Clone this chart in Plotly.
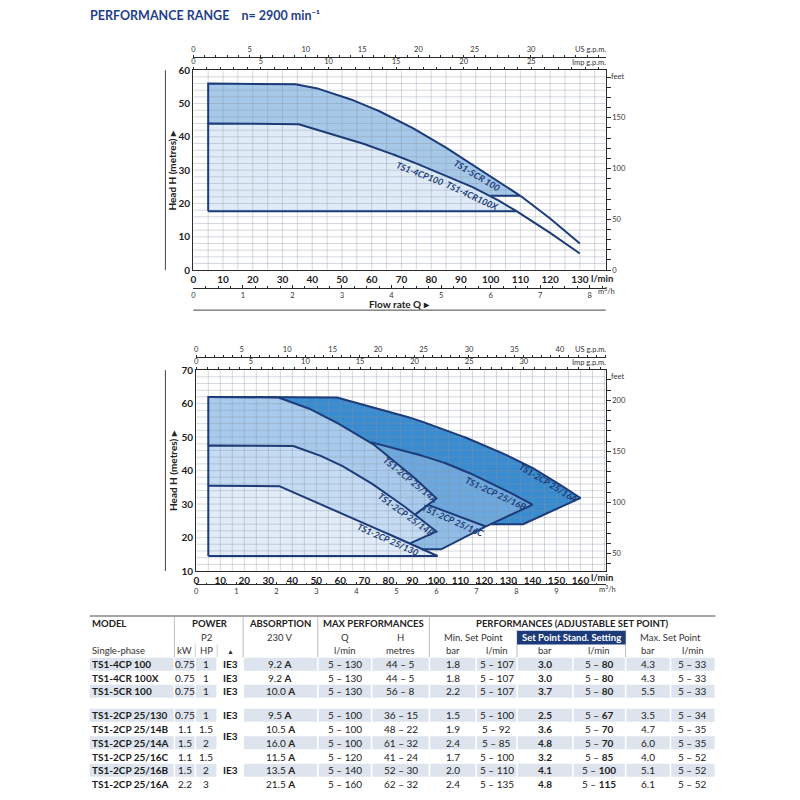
import numpy as np
import plotly.graph_objects as go

# figure is 784x784 so that, with the page's default 8px body margin, it fits an 800x800 window
W, H = 784, 784
X_OFF = 8
Y_SCALE, Y_OFF = 0.985, 14.0   # measured: window_y = Y_SCALE * (fig_y + Y_OFF)

# ---------------- unit conversions ----------------
LPM_PER_USGPM = 3.78541
LPM_PER_IMPGPM = 4.54609
LPM_PER_M3H = 1000.0 / 60.0
FT_PER_M = 3.28084

# ---------------- top chart data (Q l/min, H metres) ----------------
q_5cr = [5, 32.5, 40, 50, 60, 70, 80, 90, 100, 110, 120, 130]
h_5cr = [56, 56, 55.0, 52.3, 48.8, 44.5, 39.5, 34.0, 28.3, 22.3, 15.5, 8.0]
hmin_5cr = 22.3
q_4cp = [5, 34.5, 40, 50, 60, 70, 80, 90, 100, 108.7, 120, 130]
h_4cp = [44, 44, 42.6, 40.0, 37.1, 33.8, 30.2, 26.6, 22.3, 17.7, 11.2, 5.0]
hmin_4cp = 17.7

top_labels = ["TS1-5CR 100", "TS1-4CP100", "TS1-4CR100X"]
top_label_q = [95.5, 76.2, 93.6]
top_label_h = [28.4, 29.0, 22.3]
top_label_angle = [31, 21, 25]

# ---------------- bottom chart data (Q l/min, H metres) ----------------
q_16a = [5, 57.7, 77, 90, 104.7, 120, 132.3, 140, 148.9, 160]
h_16a = [62, 62, 58.2, 55.6, 52.0, 47.6, 43.6, 40.8, 37.0, 31.8]
minset_16a = [136.5, 24.0]
q_16b = [5, 40, 50, 60, 72.6, 85, 100, 110, 120, 130, 140]
h_16b = [52, 52, 51.3, 50.2, 48.5, 46.3, 43.2, 40.5, 37.2, 33.7, 29.8]
minset_16b = [118.2, 22.5]
q_16c = [5, 40, 55, 70, 85, 95.6, 108, 120.6]
h_16c = [41, 41, 38.5, 35.5, 32.6, 30.0, 26.8, 23.3]
minset_16c = [102.6, 16.5]
q_14a = [5, 33.5, 45, 55, 65, 72.6, 80, 90, 100]
h_14a = [62, 62, 59.2, 55.7, 51.6, 48.5, 44.3, 38.4, 31.7]
minset_14a = [86.8, 24.5]
q_14b = [5, 39.7, 50, 60, 70, 80, 90, 100]
h_14b = [47.5, 47.5, 45.0, 41.7, 37.6, 32.8, 27.5, 21.8]
minset_14b = [89.0, 18.2]
q_130 = [5, 34, 45, 55, 65, 75, 85, 95, 100.5]
h_130 = [35.5, 35.5, 32.2, 29.1, 25.9, 22.7, 19.4, 16.2, 14.5]
minset_130 = [100.5, 14.5]

bot_labels = ["TS1-2CP 25/16A", "TS1-2CP 25/16B", "TS1-2CP 25/16C",
              "TS1-2CP 25/14A", "TS1-2CP 25/14B", "TS1-2CP 25/130"]
bot_label_q = [146.4, 124.9, 107.0, 89.0, 87.4, 79.8]
bot_label_h = [36.3, 33.3, 25.2, 37.2, 26.9, 19.4]
bot_label_angle = [31, 25, 24, 39, 36, 24]

# ---------------- axis ticks ----------------
top_lpm_ticks = list(range(0, 131, 10))
top_head_ticks = list(range(0, 61, 10))
top_usgpm_ticks = list(range(0, 31, 5))
top_impgpm_ticks = list(range(0, 26, 5))
top_m3h_ticks = list(range(0, 9))
top_feet_ticks = [0, 50, 100, 150]
bot_lpm_ticks = list(range(0, 161, 10))
bot_head_ticks = list(range(10, 71, 10))
bot_usgpm_ticks = list(range(0, 41, 5))
bot_impgpm_ticks = list(range(0, 31, 5))
bot_m3h_ticks = list(range(0, 10))
bot_feet_ticks = [50, 100, 150, 200]

# ---------------- table data ----------------
tbl_model = ["TS1-4CP 100", "TS1-4CR 100X", "TS1-5CR 100", "TS1-2CP 25/130", "TS1-2CP 25/14B",
             "TS1-2CP 25/14A", "TS1-2CP 25/16C", "TS1-2CP 25/16B", "TS1-2CP 25/16A"]
tbl_kw = ["0.75", "0.75", "0.75", "0.75", "1.1", "1.5", "1.1", "1.5", "2.2"]
tbl_hp = ["1", "1", "1", "1", "1.5", "2", "1.5", "2", "3"]
tbl_amp = ["9.2", "9.2", "10.0", "9.5", "10.5", "16.0", "11.5", "13.5", "21.5"]
tbl_qmax = ["5 – 130", "5 – 130", "5 – 130", "5 – 100", "5 – 100", "5 – 100", "5 – 120", "5 – 140", "5 – 160"]
tbl_hmax = ["44 – 5", "44 – 5", "56 – 8", "36 – 15", "48 – 22", "61 – 32", "41 – 24", "52 – 30", "62 – 32"]
tbl_min_bar = ["1.8", "1.8", "2.2", "1.5", "1.9", "2.4", "1.7", "2.0", "2.4"]
tbl_min_q = ["5 – 107", "5 – 107", "5 – 107", "5 – 100", "5 – 92", "5 – 85", "5 – 100", "5 – 110", "5 – 135"]
tbl_std_bar = ["3.0", "3.0", "3.7", "2.5", "3.6", "4.8", "3.2", "4.1", "4.8"]
tbl_std_q = ["80", "80", "80", "67", "70", "70", "85", "100", "115"]
tbl_max_bar = ["4.3", "4.3", "5.5", "3.5", "4.7", "6.0", "4.0", "5.1", "6.1"]
tbl_max_q = ["5 – 33", "5 – 33", "5 – 33", "5 – 34", "5 – 35", "5 – 35", "5 – 52", "5 – 52", "5 – 52"]
tbl_ie3_groups = [[0], [1], [2], [3], [4, 5], [6, 7, 8]]

# ---------------- styles ----------------
NAVY = "#1d3b78"
TITLE_BLUE = "#1f418c"
AXIS_C = "#2a2a2a"
GRID_C = "rgba(135,145,160,0.45)"
NARROW = "Liberation Sans Narrow, Arial Narrow, Lato, sans-serif"
TABF = "Lato, Open Sans, sans-serif"
TOP_COLORS = ["#a6c8e9", "#dfecf8"]
BOT_COLORS = ["#3a8cd0", "#6ca8de", "#8fbde7", "#a8caec", "#c4dbf3", "#e1ecf8"]

TOP_PX = (191, 605, 70, 270)      # left, right, top, bottom (window pixels)
BOT_PX = (194, 605, 370, 571)
TOP_XMAX = 138.7
BOT_XMAX = 170.5


def fy(t):
    return t / Y_SCALE - Y_OFF


def X(p):
    return (p - X_OFF) / W


def Y(t):
    return 1 - fy(t) / H


def T(t):
    # table rows are squeezed very slightly so the last row stays inside the figure
    return 616 + (t - 617) * 0.983


fig = go.Figure()
annotations = []
shapes = []


def densify(poly, sx, sy, step=0.5):
    xs, ys = [], []
    for (x0, y0), (x1, y1) in zip(poly[:-1], poly[1:]):
        L = np.hypot((x1 - x0) * sx, (y1 - y0) * sy)
        n = max(int(L / step), 1)
        t = np.arange(n) / n
        xs.append(x0 + (x1 - x0) * t)
        ys.append(y0 + (y1 - y0) * t)
    xs.append([poly[-1, 0]])
    ys.append([poly[-1, 1]])
    return np.concatenate(xs), np.concatenate(ys)


def inside(x, y, poly):
    res = np.zeros(x.shape, bool)
    n = len(poly)
    for i in range(n):
        x1, y1 = poly[i]
        x2, y2 = poly[(i + 1) % n]
        if y1 == y2:
            continue
        cond = (y1 > y) != (y2 > y)
        xint = x1 + (y - y1) * (x2 - x1) / (y2 - y1)
        res ^= cond & (x < xint)
    return res


def build_chart(regions, exts, xr, yr, sx, sy, xmax, ymin, ymax, gdx, gdy):
    for poly, col in regions:
        closed = np.vstack([poly, poly[:1]])
        fig.add_trace(go.Scatter(x=closed[:, 0], y=closed[:, 1], xaxis=xr, yaxis=yr, mode="lines",
                                 fill="toself", fillcolor=col, line=dict(width=0, color=col),
                                 hoverinfo="skip", showlegend=False))
    gx, gy = [], []
    for v in np.arange(gdx, xmax, gdx):
        gx += [v, v, None]
        gy += [ymin, ymax, None]
    for v in np.arange(ymin + gdy, ymax, gdy):
        gx += [0, xmax, None]
        gy += [v, v, None]
    fig.add_trace(go.Scatter(x=gx, y=gy, xaxis=xr, yaxis=yr, mode="lines",
                             line=dict(width=0.8, color=GRID_C), hoverinfo="skip", showlegend=False))
    for i, (poly, col) in enumerate(regions):
        closed = np.vstack([poly, poly[:1]])
        xs, ys = densify(closed, sx, sy)
        hide = np.zeros(len(xs), bool)
        for later, _ in regions[i + 1:]:
            hide |= inside(xs, ys, later)
        xs = np.where(hide, np.nan, xs)
        fig.add_trace(go.Scatter(x=xs, y=ys, xaxis=xr, yaxis=yr, mode="lines",
                                 line=dict(width=2, color=NAVY), hoverinfo="skip", showlegend=False))
    for qx, hy in exts:
        fig.add_trace(go.Scatter(x=qx, y=hy, xaxis=xr, yaxis=yr, mode="lines",
                                 line=dict(width=2, color=NAVY), hoverinfo="skip", showlegend=False))


# ----- top chart regions -----
def top_region(q, h, hmin):
    k = max(i for i in range(len(h)) if h[i] >= hmin)
    pts = [(q[0], hmin)] + list(zip(q[:k + 1], h[:k + 1])) + [(q[k], hmin)]
    return np.array(pts, float), (q[k:], h[k:])


reg5, ext5 = top_region(q_5cr, h_5cr, hmin_5cr)
reg4, ext4 = top_region(q_4cp, h_4cp, hmin_4cp)
tsx = (TOP_PX[1] - TOP_PX[0]) / TOP_XMAX
tsy = (fy(TOP_PX[3]) - fy(TOP_PX[2])) / 60.0
build_chart([(reg5, TOP_COLORS[0]), (reg4, TOP_COLORS[1])], [ext5, ext4], "x", "y",
            tsx, tsy, TOP_XMAX, 0, 60, 5, 2)


# ----- bottom chart regions -----
def bot_region(q, h, ms):
    pts = [(q[0], ms[1])] + list(zip(q, h)) + [(ms[0], ms[1])]
    return np.array(pts, float)


bot_regs = [bot_region(q_16a, h_16a, minset_16a), bot_region(q_16b, h_16b, minset_16b),
            bot_region(q_16c, h_16c, minset_16c), bot_region(q_14a, h_14a, minset_14a),
            bot_region(q_14b, h_14b, minset_14b), bot_region(q_130, h_130, minset_130)]
bsx = (BOT_PX[1] - BOT_PX[0]) / BOT_XMAX
bsy = (fy(BOT_PX[3]) - fy(BOT_PX[2])) / 60.0
build_chart(list(zip(bot_regs, BOT_COLORS)), [], "x5", "y3", bsx, bsy, BOT_XMAX, 10, 70, 5, 2)

# invisible traces so the secondary scales are drawn
for xa, ya in [("x2", "y"), ("x3", "y"), ("x4", "y"), ("x", "y2"),
               ("x6", "y3"), ("x7", "y3"), ("x8", "y3"), ("x5", "y4")]:
    fig.add_trace(go.Scatter(x=[None], y=[None], xaxis=xa, yaxis=ya, mode="markers",
                             hoverinfo="skip", showlegend=False))

# ----- curve labels -----
LBL_FONT = dict(family=NARROW, size=9, color=NAVY, weight="bold", style="italic")
for t, q, h, a in zip(top_labels, top_label_q, top_label_h, top_label_angle):
    annotations.append(dict(text=t, x=q, y=h, xref="x", yref="y", showarrow=False, textangle=a,
                            font=LBL_FONT))
for t, q, h, a in zip(bot_labels, bot_label_q, bot_label_h, bot_label_angle):
    annotations.append(dict(text=t, x=q, y=h, xref="x5", yref="y3", showarrow=False, textangle=a,
                            font=LBL_FONT))


def txt(text, x, y, size=10, bold=False, color="#222", anchor="center", family=TABF, angle=0):
    annotations.append(dict(text=text, x=X(x), y=Y(y), xref="paper", yref="paper", showarrow=False,
                            xanchor=anchor, yanchor="middle", textangle=angle, borderpad=0,
                            font=dict(family=family, size=size, color=color,
                                      weight="bold" if bold else "normal")))


def rect(x0, y0, x1, y1, color):
    shapes.append(dict(type="rect", xref="paper", yref="paper", x0=X(x0), x1=X(x1), y0=Y(y1), y1=Y(y0),
                       fillcolor=color, line=dict(width=0), layer="above"))


def seg(x0, y0, x1, y1, color, w):
    shapes.append(dict(type="line", xref="paper", yref="paper", x0=X(x0), x1=X(x1), y0=Y(y0), y1=Y(y1),
                       line=dict(color=color, width=w), layer="above"))


# ----- title and chart decorations -----
txt("PERFORMANCE RANGE\u00a0\u00a0\u00a0 n= 2900 min\u207b\u00b9", 86, 15, 12.5, True, TITLE_BLUE, "left")
for (l, r, t, b) in [TOP_PX, BOT_PX]:
    seg(163, t, 163, b, "#444", 1)
    txt("Head H (metres) \u25b8", 170, (t + b) / 2, 10, True, "#222", "center", NARROW, -90)
    txt("feet", 617, t + 6, 7.5, False, "#333", "center", NARROW)
txt("l/min", 589, 278, 9.5, True, "#222", "left", NARROW)
txt("l/min", 589, 577, 9.5, True, "#222", "left", NARROW)
txt("m<sup>3</sup>/h", 596, 291, 7.5, False, "#333", "left", NARROW)
txt("m<sup>3</sup>/h", 597, 589, 7.5, False, "#333", "left", NARROW)
txt("US g.p.m.", 606, 49, 7.5, False, "#333", "right", NARROW)
txt("Imp g.p.m.", 606, 62, 7.5, False, "#333", "right", NARROW)
txt("US g.p.m.", 606, 349, 7.5, False, "#333", "right", NARROW)
txt("Imp g.p.m.", 606, 362, 7.5, False, "#333", "right", NARROW)
txt("Flow rate Q \u25b8", 398, 303.5, 10, True, "#222", "center", NARROW)
seg(191, 310, 605, 310, "#444", 1)

# ----- table -----
bounds = [87, 172, 193, 215, 241, 316, 370, 428, 475, 516, 572, 625, 670, 715]
cent = [(a + b) / 2 for a, b in zip(bounds[:-1], bounds[1:])]
row_y = [666, 680, 693.5, 718, 732, 746, 760, 774, 788]
row_shade = [1, 0, 1, 1, 0, 1, 0, 1, 0]
SHADE = "#dde4ed"
RH = 6.6

for ry, sh in zip(row_y, row_shade):
    if sh:
        for c in range(len(bounds) - 1):
            if c == 3:
                continue
            rect(bounds[c] + (0 if c == 0 else 0.8), T(ry - RH), bounds[c + 1] - 0.8, T(ry + RH), SHADE)

seg(87, T(617), 715, T(617), "#a5a5a5", 2)
for bx in [172, 241, 316, 428]:
    seg(bx, T(618), bx, T(659), "#bdbdbd", 1)
for bx in [516, 625]:
    seg(bx, T(631), bx, T(659), "#bdbdbd", 1)
for bx in [193, 215]:
    seg(bx, T(646), bx, T(659), "#d0d0d0", 1)
rect(516, T(632), 625, T(646), "#1d3a7a")

# header text
txt("MODEL", 88, T(625), 9.5, True, "#222", "left")
txt("POWER", 208, T(625), 9.5, True)
txt("ABSORPTION", cent[4], T(625), 9.5, True)
txt("MAX PERFORMANCES", (bounds[5] + bounds[7]) / 2, T(625), 9.5, True)
txt("PERFORMANCES (ADJUSTABLE SET POINT)", (bounds[7] + bounds[13]) / 2, T(625), 9.5, True)
txt("P2", cent[2], T(639), 9.5, False, "#333")
txt("230 V", cent[4], T(639), 9.5, False, "#333")
txt("Q", cent[5], T(639), 9.5, False, "#333")
txt("H", cent[6], T(639), 9.5, False, "#333")
txt("Min. Set Point", (bounds[7] + bounds[9]) / 2, T(639), 9.5, False, "#333")
txt("Set Point Stand. Setting", (bounds[9] + bounds[11]) / 2, T(639), 9.5, True, "white")
txt("Max. Set Point", (bounds[11] + bounds[13]) / 2, T(639), 9.5, False, "#333")
txt("Single-phase", 88, T(652.5), 9.5, False, "#333", "left")
for c, s in zip([1, 2, 3, 5, 6, 7, 8, 9, 10, 11, 12],
                ["kW", "HP", "\u25b2", "l/min", "metres", "bar", "l/min", "bar", "l/min", "bar", "l/min"]):
    txt(s, cent[c], T(652.5), 7 if s == "\u25b2" else 9.5, False, "#333")

# data rows
for i, ry in enumerate(row_y):
    y = T(ry)
    txt(tbl_model[i], 88, y, 10, True, "#1a1a1a", "left")
    txt(tbl_kw[i], cent[1], y, 10)
    txt(tbl_hp[i], cent[2], y, 10)
    txt(tbl_amp[i] + " <b>A</b>", cent[4], y, 10)
    txt(tbl_qmax[i], cent[5], y, 10)
    txt(tbl_hmax[i], cent[6], y, 10)
    txt(tbl_min_bar[i], cent[7], y, 10)
    txt(tbl_min_q[i], cent[8], y, 10)
    txt(tbl_std_bar[i], cent[9], y, 10, True)
    txt("5 – <b>" + tbl_std_q[i] + "</b>", cent[10], y, 10)
    txt(tbl_max_bar[i], cent[11], y, 10)
    txt(tbl_max_q[i], cent[12], y, 10)
for grp in tbl_ie3_groups:
    txt("IE3", cent[3], T(float(np.mean([row_y[g] for g in grp]))), 10, True, "#1a1a1a")

# ----- axes -----
tick_main = dict(family=NARROW, size=10, color="#222", weight="bold")
tick_small = dict(family=NARROW, size=7.5, color="#333")
frame = dict(showline=True, mirror=True, linecolor=AXIS_C, linewidth=1.3, showgrid=False,
             zeroline=False, ticks="", fixedrange=True)
sec = dict(showgrid=False, zeroline=False, fixedrange=True, tickcolor=AXIS_C, tickfont=tick_small,
           linecolor=AXIS_C, linewidth=0.8, tickmode="array")


def minor(d, side, ln=2):
    return dict(tickmode="linear", tick0=0, dtick=d, ticks=side, ticklen=ln, tickcolor=AXIS_C)


layout = dict(
    width=W, height=H, margin=dict(l=0, r=0, t=0, b=0), showlegend=False,
    paper_bgcolor="white", plot_bgcolor="white", hovermode=False,
    xaxis=dict(domain=[X(TOP_PX[0]), X(TOP_PX[1])], range=[0, TOP_XMAX], anchor="y",
               tickmode="array", tickvals=top_lpm_ticks, tickfont=tick_main, **frame),
    yaxis=dict(domain=[Y(TOP_PX[3]), Y(TOP_PX[2])], range=[0, 60], anchor="x",
               tickmode="array", tickvals=top_head_ticks, tickfont=tick_main, **frame),
    xaxis2=dict(overlaying="x", anchor="free", position=Y(57), side="top",
                range=[0, TOP_XMAX / LPM_PER_USGPM], tickvals=top_usgpm_ticks, showline=True,
                ticks="outside", ticklen=2, minor=minor(1, "outside"), **sec),
    xaxis3=dict(overlaying="x", anchor="y", side="top",
                range=[0, TOP_XMAX / LPM_PER_IMPGPM], tickvals=top_impgpm_ticks, showline=False,
                ticks="outside", ticklen=2, minor=minor(1, "outside"), **sec),
    xaxis4=dict(overlaying="x", anchor="free", position=Y(287.5), side="bottom",
                range=[0, TOP_XMAX / LPM_PER_M3H], tickvals=top_m3h_ticks, showline=True,
                ticks="inside", ticklen=2.5, minor=minor(0.25, "inside", 1.5), **sec),
    yaxis2=dict(overlaying="y", anchor="x", side="right", range=[0, 60 * FT_PER_M],
                tickvals=top_feet_ticks, showline=False, ticks="outside", ticklen=4,
                minor=minor(10, "outside", 4), **sec),
    xaxis5=dict(domain=[X(BOT_PX[0]), X(BOT_PX[1])], range=[0, BOT_XMAX], anchor="y3",
                tickmode="array", tickvals=bot_lpm_ticks, tickfont=tick_main, **frame),
    yaxis3=dict(domain=[Y(BOT_PX[3]), Y(BOT_PX[2])], range=[10, 70], anchor="x5",
                tickmode="array", tickvals=bot_head_ticks, tickfont=tick_main, **frame),
    xaxis6=dict(overlaying="x5", anchor="free", position=Y(357), side="top",
                range=[0, BOT_XMAX / LPM_PER_USGPM], tickvals=bot_usgpm_ticks, showline=True,
                ticks="outside", ticklen=2, minor=minor(1, "outside"), **sec),
    xaxis7=dict(overlaying="x5", anchor="y3", side="top",
                range=[0, BOT_XMAX / LPM_PER_IMPGPM], tickvals=bot_impgpm_ticks, showline=False,
                ticks="outside", ticklen=2, minor=minor(1, "outside"), **sec),
    xaxis8=dict(overlaying="x5", anchor="free", position=Y(584), side="bottom",
                range=[0, BOT_XMAX / LPM_PER_M3H], tickvals=bot_m3h_ticks, showline=True,
                ticks="inside", ticklen=2.5, minor=minor(0.25, "inside", 1.5), **sec),
    yaxis4=dict(overlaying="y3", anchor="x5", side="right", range=[10 * FT_PER_M, 70 * FT_PER_M],
                tickvals=bot_feet_ticks, showline=False, ticks="outside", ticklen=4,
                minor=minor(10, "outside", 4), **sec),
    annotations=annotations,
    shapes=shapes,
)
fig.update_layout(**layout)
fig.write_html("out.html")
